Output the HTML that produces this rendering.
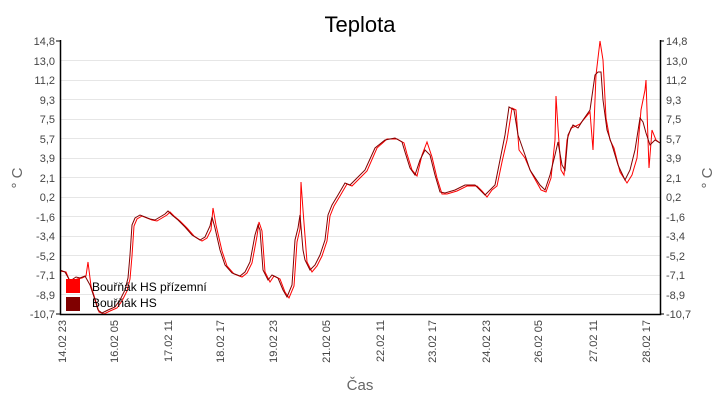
<!DOCTYPE html>
<html><head><meta charset="utf-8"><style>
body{margin:0;background:#fff;}
svg{display:block;font-family:"Liberation Sans",sans-serif;}
</style></head><body>
<svg width="720" height="400" xmlns="http://www.w3.org/2000/svg">
<rect width="720" height="400" fill="#fff"/>
<text x="360" y="32" font-size="22" text-anchor="middle" fill="#000">Teplota</text>
<g stroke="#e6e6e6" stroke-width="1">
<line x1="60" x2="660" y1="60.5" y2="60.5"/><line x1="60" x2="660" y1="80.5" y2="80.5"/><line x1="60" x2="660" y1="99.5" y2="99.5"/><line x1="60" x2="660" y1="119.5" y2="119.5"/><line x1="60" x2="660" y1="138.5" y2="138.5"/><line x1="60" x2="660" y1="158.5" y2="158.5"/><line x1="60" x2="660" y1="177.5" y2="177.5"/><line x1="60" x2="660" y1="197.5" y2="197.5"/><line x1="60" x2="660" y1="216.5" y2="216.5"/><line x1="60" x2="660" y1="236.5" y2="236.5"/><line x1="60" x2="660" y1="255.5" y2="255.5"/><line x1="60" x2="660" y1="275.5" y2="275.5"/><line x1="60" x2="660" y1="294.5" y2="294.5"/>
</g>
<g font-size="11" fill="#444">
<g text-anchor="end">
<text x="55" y="45">14,8</text><text x="55" y="65">13,0</text><text x="55" y="84">11,2</text><text x="55" y="104">9,3</text><text x="55" y="123">7,5</text><text x="55" y="143">5,7</text><text x="55" y="162">3,9</text><text x="55" y="182">2,1</text><text x="55" y="201">0,2</text><text x="55" y="221">-1,6</text><text x="55" y="240">-3,4</text><text x="55" y="260">-5,2</text><text x="55" y="279">-7,1</text><text x="55" y="299">-8,9</text><text x="55" y="318">-10,7</text>
</g>
<g>
<text x="666" y="45">14,8</text><text x="666" y="65">13,0</text><text x="666" y="84">11,2</text><text x="666" y="104">9,3</text><text x="666" y="123">7,5</text><text x="666" y="143">5,7</text><text x="666" y="162">3,9</text><text x="666" y="182">2,1</text><text x="666" y="201">0,2</text><text x="666" y="221">-1,6</text><text x="666" y="240">-3,4</text><text x="666" y="260">-5,2</text><text x="666" y="279">-7,1</text><text x="666" y="299">-8,9</text><text x="666" y="318">-10,7</text>
</g>
<g text-anchor="end">
<text transform="translate(66,320) rotate(-90)">14.02 23</text>
<text transform="translate(118,320) rotate(-90)">16.02 05</text>
<text transform="translate(172,320) rotate(-90)">17.02 11</text>
<text transform="translate(224,320) rotate(-90)">18.02 17</text>
<text transform="translate(277,320) rotate(-90)">19.02 23</text>
<text transform="translate(330,320) rotate(-90)">21.02 05</text>
<text transform="translate(384,320) rotate(-90)">22.02 11</text>
<text transform="translate(436,320) rotate(-90)">23.02 17</text>
<text transform="translate(490,320) rotate(-90)">24.02 23</text>
<text transform="translate(542,320) rotate(-90)">26.02 05</text>
<text transform="translate(597,320) rotate(-90)">27.02 11</text>
<text transform="translate(650,320) rotate(-90)">28.02 17</text>
</g>
</g>
<text x="360" y="390" font-size="15" fill="#666" text-anchor="middle">Čas</text>
<text transform="translate(22,178) rotate(-90)" font-size="15" fill="#666" text-anchor="middle">° C</text>
<text transform="translate(712,178) rotate(-90)" font-size="15" fill="#666" text-anchor="middle">° C</text>
<polyline fill="none" stroke="#ff0000" stroke-width="1" points="60,271 66,272 71,284 77,279 82,278 86,276 88,262 91,286 96,302 99,312 104,314 110,311 117,308 122,301 127,291 130,279 132,256 134,226 137,219 142,216 147,218 152,220 157,221 162,218 167,215 170,212 174,216 180,221 187,228 194,236 202,241 207,238 211,230 213,208 216,225 222,251 227,266 234,274 242,277 247,273 252,263 257,236 259,222 262,231 265,272 270,282 274,276 280,279 285,292 289,298 294,286 297,242 300,229 301,182 303,210 307,262 312,272 317,266 322,256 327,241 330,216 334,206 340,196 347,184 352,186 357,181 367,171 377,148 387,139 397,139 404,143 407,154 412,170 417,176 422,155 427,142 432,157 437,178 442,194 447,194 457,191 467,186 477,186 482,191 487,197 492,190 497,186 502,162 507,140 512,108 516,110 519,150 525,158 531,172 541,190 546,192 551,178 555,140 556,96 558,128 561,170 564,175 567,140 571,128 576,126 580,124 585,118 590,112 593,150 596,75 600,41 603,60 606,118 610,140 614,148 620,172 627,183 632,175 637,158 641,110 645,90 646,80 648,140 649,168 652,130 656,140 660,143"/>
<polyline fill="none" stroke="#800000" stroke-width="1" points="60,270 65,272 70,281 76,277 80,278 85,276 90,285 95,300 98,310 102,313 108,310 115,307 120,300 125,290 128,278 130,255 132,225 135,218 140,215 145,217 150,219 155,220 160,217 165,214 168,211 172,215 178,220 185,227 192,235 200,240 205,237 210,226 212,217 215,228 220,250 225,265 232,273 240,276 245,272 250,262 255,235 258,225 260,230 263,270 268,280 272,275 278,278 283,290 287,297 292,285 295,240 298,228 300,215 303,250 305,260 310,270 315,265 320,255 325,240 328,215 332,205 338,195 345,183 350,185 355,180 365,170 375,148 385,140 395,138 402,142 405,152 410,168 415,175 420,160 425,150 430,155 435,175 440,192 445,193 455,190 465,185 475,185 480,190 485,195 490,190 495,185 500,160 505,135 509,107 514,110 518,135 525,155 530,170 540,185 545,190 550,175 555,155 558,142 562,165 565,170 568,135 573,125 578,128 583,120 590,110 595,75 598,72 601,72 603,100 607,130 612,145 618,165 625,180 630,170 635,150 640,118 643,122 646,133 650,145 655,140 660,143"/>
<path d="M60.5,40 V314.5 H660.5 V40" fill="none" stroke="#000" stroke-width="1.5"/>
<g stroke="#000" stroke-width="1">
<line x1="56" x2="60" y1="41" y2="41"/><line x1="56" x2="60" y1="314" y2="314"/>
<line x1="660" x2="664" y1="41" y2="41"/><line x1="660" x2="664" y1="314" y2="314"/>
</g>
<rect x="66" y="279" width="14" height="14" fill="#ff0000"/>
<rect x="66" y="297" width="14" height="14" fill="#800000"/>
<text x="92" y="291" font-size="12" fill="#000">Bouřňák HS přízemní</text>
<text x="92" y="307" font-size="12" fill="#000">Bouřňák HS</text>
</svg>
</body></html>
